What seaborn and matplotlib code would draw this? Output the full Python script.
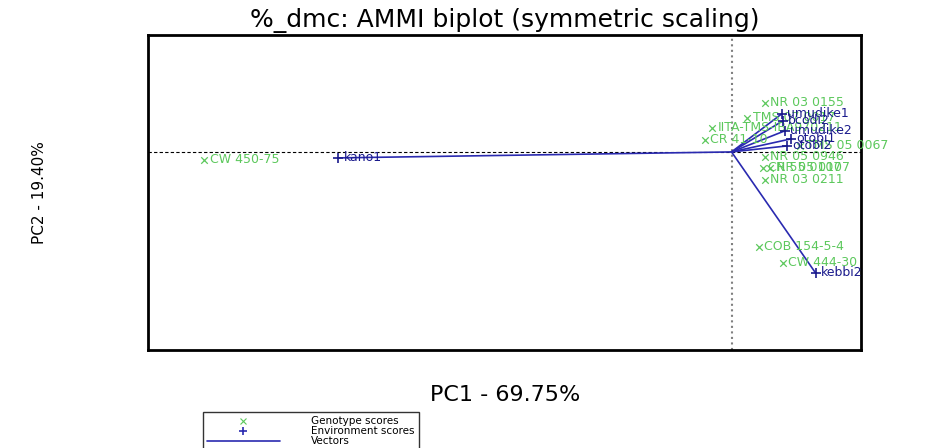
import matplotlib
matplotlib.use("Agg")
import matplotlib.pyplot as plt
from matplotlib.lines import Line2D
import pandas as pd
import seaborn as sns

# genotype scores (PC1, PC2)
genotypes = ["NR 03 0155", "TMS 07 0017", "IITA-TMS-IBA970211", "CR 41-10", "TMS 05 0067",
             "NR 05 0946", "NR 05 0107", "CR 55 0107", "NR 03 0211", "COB 154-5-4",
             "CW 444-30", "CW 450-75"]
geno_pc1 = [0.255, 0.123, -0.147, -0.208, 0.53, 0.255, 0.30, 0.24, 0.255, 0.208, 0.394, -4.066]
geno_pc2 = [0.378, 0.262, 0.185, 0.093, 0.046, -0.039, -0.124, -0.124, -0.216, -0.733, -0.857, -0.062]

# environment scores (PC1, PC2)
envs = ["umudike1", "bcodi2", "umudike2", "otobi1", "otobi2", "kano1", "kebbi2"]
env_pc1 = [0.386, 0.394, 0.409, 0.455, 0.424, -3.032, 0.648]
env_pc2 = [0.293, 0.239, 0.162, 0.100, 0.046, -0.046, -0.934]

green = "#5cc85c"
navy = "#1a1a8c"
blue = "#2a2ab0"

geno = pd.DataFrame({"name": genotypes, "PC1": geno_pc1, "PC2": geno_pc2})
env = pd.DataFrame({"name": envs, "PC1": env_pc1, "PC2": env_pc2})

sns.set_theme(style="white")
plt.rcParams["font.family"] = ["DejaVu Sans"]
plt.rcParams["text.color"] = "black"
plt.rcParams["axes.labelcolor"] = "black"

fig = plt.figure(figsize=(9.26, 4.48), dpi=100)
ax = fig.add_axes([0.160, 0.219, 0.770, 0.703])

ax.axhline(0, color="black", lw=0.8, ls=(0, (3, 2)), zorder=1)
ax.axvline(0, color="grey", lw=1.5, ls=":", zorder=1)

# vectors from origin to environment scores
for _, r in env.iterrows():
    ax.plot([0, r.PC1], [0, r.PC2], color=blue, lw=1.2, zorder=2)

sns.scatterplot(data=geno, x="PC1", y="PC2", marker="x", color=green, s=22,
                linewidth=0.9, ax=ax, zorder=3)
sns.scatterplot(data=env, x="PC1", y="PC2", marker="+", color=navy, s=45,
                linewidth=1.2, ax=ax, zorder=4)

for _, r in geno.iterrows():
    ax.annotate(r["name"], (r.PC1, r.PC2), xytext=(4, 0), textcoords="offset points",
                ha="left", va="center", color=green, fontsize=9, annotation_clip=False)
for _, r in env.iterrows():
    ax.annotate(r["name"], (r.PC1, r.PC2), xytext=(4, 0), textcoords="offset points",
                ha="left", va="center", color=navy, fontsize=9, annotation_clip=False)

ax.set_xlim(-4.5, 1.0)
ax.set_ylim(-1.528, 0.903)
ax.set_xticks([])
ax.set_yticks([])
for sp in ax.spines.values():
    sp.set_color("black")
    sp.set_linewidth(2)

ax.set_title("%_dmc: AMMI biplot (symmetric scaling)", fontsize=18, pad=6)
ax.set_xlabel("PC1 - 69.75%", fontsize=16, labelpad=25)
ax.set_ylabel("PC2 - 19.40%", fontsize=11, labelpad=73)

handles = [
    Line2D([], [], marker="x", color=green, ls="none", markersize=4, markeredgewidth=0.8),
    Line2D([], [], marker="+", color=blue, ls="none", markersize=6, markeredgewidth=1.2),
    Line2D([], [], color=blue, lw=1.2),
]
leg = fig.legend(handles, ["Genotype scores", "Environment scores", "Vectors"],
                 loc="upper left", bbox_to_anchor=(0.219, 0.080), fontsize=7.5,
                 frameon=True, fancybox=False, edgecolor="black", handlelength=7,
                 labelspacing=0.0, borderpad=0.4, borderaxespad=0,
                 handletextpad=3.0)
leg.get_frame().set_linewidth(1.0)

fig.savefig("out.png", dpi=100)
